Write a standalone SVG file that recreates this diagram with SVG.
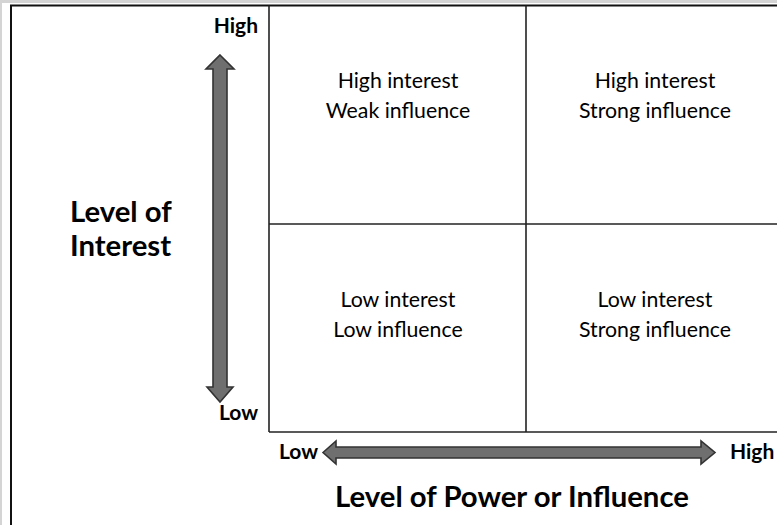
<svg xmlns="http://www.w3.org/2000/svg" width="777" height="525" viewBox="0 0 777 525">
  <style>
    .q { font-family: Lato, "Open Sans", "Liberation Sans", sans-serif; font-size: 21.3px; fill: #000; text-anchor: middle; }
    .ax { font-family: Lato, "Open Sans", "Liberation Sans", sans-serif; font-weight: bold; font-size: 21px; fill: #000; }
    .title { font-family: Lato, "Open Sans", "Liberation Sans", sans-serif; font-weight: bold; font-size: 29.3px; fill: #000; }
    .grid { stroke: #222; stroke-width: 1.6; fill: none; }
    .arrow { fill: #6f6f6f; stroke: #333; stroke-width: 1.6; stroke-linejoin: miter; }
  </style>
  <rect x="0" y="0" width="777" height="525" fill="#d4d4d4"/>
  <rect x="2" y="3" width="775" height="522" fill="#ffffff"/>
  <rect x="11" y="5.5" width="780" height="540" fill="none" stroke="#111" stroke-width="2"/>

  <g id="grid">
    <line class="grid" x1="269" y1="5.5" x2="269" y2="432"/>
    <line class="grid" x1="526" y1="5.5" x2="526" y2="432"/>
    <line class="grid" x1="269" y1="224" x2="777" y2="224"/>
    <line class="grid" x1="269" y1="432" x2="777" y2="432"/>
  </g>

  <g id="connectors">
    <polygon id="interest-arrow" class="arrow" points="220,55 234,69 227,69 227,387 233,387 220,402 207,387 213,387 213,69 206,69"/>
    <polygon id="power-arrow" class="arrow" points="323,452.5 336,441 336,447 701,447 701,441 715,452.5 701,464 701,458 336,458 336,464"/>
  </g>

  <g id="q-high-weak">
    <text class="q" x="398" y="88">High interest</text>
    <text class="q" x="398" y="118">Weak influence</text>
  </g>
  <g id="q-high-strong">
    <text class="q" x="655" y="88">High interest</text>
    <text class="q" x="655" y="118">Strong influence</text>
  </g>
  <g id="q-low-low">
    <text class="q" x="398" y="307">Low interest</text>
    <text class="q" x="398" y="337">Low influence</text>
  </g>
  <g id="q-low-strong">
    <text class="q" x="655" y="307">Low interest</text>
    <text class="q" x="655" y="337">Strong influence</text>
  </g>

  <g id="interest-axis-labels">
    <text class="ax" x="258" y="33" text-anchor="end">High</text>
    <text class="ax" x="258" y="420" text-anchor="end">Low</text>
  </g>
  <g id="power-axis-labels">
    <text class="ax" x="279" y="459">Low</text>
    <text class="ax" x="730" y="459">High</text>
  </g>

  <g id="interest-title">
    <text class="title" x="70" y="222">Level of</text>
    <text class="title" x="70" y="256">Interest</text>
  </g>
  <g id="power-title">
    <text class="title" x="512" y="507" text-anchor="middle">Level of Power or Influence</text>
  </g>
</svg>
